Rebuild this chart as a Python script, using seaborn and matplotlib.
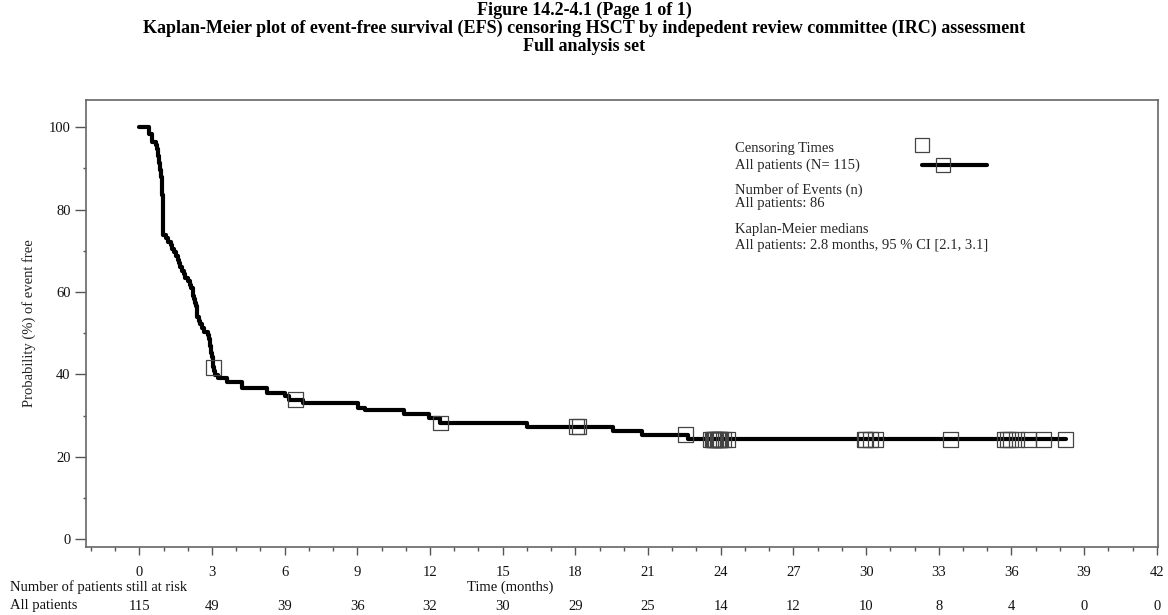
import numpy as np
import pandas as pd
import matplotlib
matplotlib.use("Agg")
import matplotlib.pyplot as plt
import seaborn as sns
from matplotlib.ticker import MultipleLocator, NullFormatter
from matplotlib.transforms import blended_transform_factory
from matplotlib.lines import Line2D

# ---- data ----
step_times = [0.0, 0.38, 0.52, 0.70, 0.74, 0.78, 0.82, 0.86, 0.90, 0.93, 0.95, 0.96,
              0.97, 0.98, 0.99, 1.10, 1.20, 1.30, 1.36, 1.45, 1.52, 1.58, 1.65, 1.70,
              1.76, 1.84, 1.90, 2.00, 2.10, 2.15, 2.20, 2.23, 2.25, 2.28, 2.35, 2.37,
              2.38, 2.39, 2.45, 2.52, 2.60, 2.68, 2.85, 2.88, 2.90, 2.93, 2.96, 2.98,
              3.00, 3.04, 3.06, 3.10, 3.14, 3.26, 3.61, 4.23, 5.26, 6.00, 6.20, 6.76,
              9.04, 9.32, 10.93, 11.95, 12.40, 16.00, 19.55, 20.75, 22.65, 38.25]
step_surv = [100.0, 98.3, 96.5, 95.6, 94.8, 93.0, 91.3, 89.6, 87.8, 86.1, 83.5, 80.9,
             78.3, 75.7, 73.9, 73.0, 72.2, 71.3, 70.4, 69.6, 68.7, 67.8, 67.0, 66.1,
             65.2, 64.3, 63.5, 62.6, 61.7, 60.9, 60.0, 59.1, 58.3, 57.4, 56.5, 55.7,
             54.8, 53.9, 53.0, 52.2, 51.3, 50.4, 49.6, 48.7, 47.8, 47.0, 46.1, 45.2,
             44.3, 42.6, 41.7, 40.8, 39.9, 39.0, 38.2, 36.6, 35.6, 34.7, 33.9, 33.1,
             31.9, 31.3, 30.3, 29.4, 28.2, 27.3, 26.2, 25.3, 24.2, 24.2]
censor_times = [3.07, 6.44, 12.43, 18.05, 18.15, 22.55,
                23.59, 23.65, 23.70, 23.76, 23.80, 23.85, 23.90, 23.95, 23.98, 24.10, 24.28,
                29.95, 29.98, 30.20, 30.38, 33.50,
                35.72, 35.85, 35.95, 36.20, 36.70, 37.34, 38.25]
risk_times = [0, 3, 6, 9, 12, 15, 18, 21, 24, 27, 30, 33, 36, 39, 42]
risk_counts = [115, 49, 39, 36, 32, 30, 29, 25, 14, 12, 10, 8, 4, 0, 0]

title_lines = ["Figure 14.2-4.1 (Page 1 of 1)",
               "Kaplan-Meier plot of event-free survival (EFS) censoring HSCT by indepedent review committee (IRC) assessment",
               "Full analysis set"]

# ---- style ----
sns.set_theme(style="white")
plt.rcParams["font.family"] = ["Liberation Serif", "DejaVu Serif"]

fig = plt.figure(figsize=(11.68, 6.15), dpi=100)
ax = fig.add_axes([86 / 1168, 1 - 547 / 615, (1158 - 86) / 1168, (547 - 100) / 615])

curve = pd.DataFrame({"time": step_times, "surv": step_surv})
sns.lineplot(data=curve, x="time", y="surv", drawstyle="steps-post", estimator=None,
             sort=False, color="black", linewidth=3.0, ax=ax)

# censor marks placed on the step curve
st = np.array(step_times)
ss = np.array(step_surv)
idx = np.searchsorted(st, np.array(censor_times), side="right") - 1
cens = pd.DataFrame({"time": censor_times, "surv": ss[idx]})
sns.scatterplot(data=cens, x="time", y="surv", marker="s", s=115, facecolor="none",
                edgecolor="#444444", linewidth=0.9, ax=ax, zorder=3)

ax.set_xlim(-2.2, 42.05)
ax.set_ylim(-1.9, 106.6)
ax.xaxis.set_major_locator(MultipleLocator(3))
ax.xaxis.set_minor_locator(MultipleLocator(1))
ax.yaxis.set_major_locator(MultipleLocator(20))
ax.yaxis.set_minor_locator(MultipleLocator(10))
ax.yaxis.set_minor_formatter(NullFormatter())
ax.xaxis.set_minor_formatter(NullFormatter())
fs = 10.5
ax.tick_params(axis="both", which="both", direction="out", width=1,
               color="#555555", labelsize=fs, labelcolor="#111111")
ax.tick_params(axis="x", which="major", length=5.5, pad=8)
ax.tick_params(axis="x", which="minor", length=3)
ax.tick_params(axis="y", which="major", length=8, pad=3)
ax.tick_params(axis="y", which="minor", length=2.5)
ax.tick_params(bottom=True, left=True, which="both")
for sp in ax.spines.values():
    sp.set_color("#666666")
    sp.set_linewidth(1.2)
ax.set_xlabel("")
ax.set_ylabel("Probability (%) of event free", fontsize=fs, color="#222222", labelpad=9)

# titles
for i, line in enumerate(title_lines):
    fig.text(0.5, 1 - (10.5 + 18.2 * i) / 615, line, ha="center", va="center",
             fontsize=13, fontweight="bold", color="black")

# legend block
fig.text(735 / 1168, 1 - 148 / 615, "Censoring Times", fontsize=fs, va="center")
fig.text(735 / 1168, 1 - 165 / 615, "All patients (N= 115)", fontsize=fs, va="center")
fig.add_artist(Line2D([922 / 1168], [1 - 145 / 615], marker="s", markersize=10.5,
                      markerfacecolor="none", markeredgecolor="#444444",
                      markeredgewidth=0.9, linestyle="none", transform=fig.transFigure))
fig.add_artist(Line2D([922 / 1168, 987 / 1168], [1 - 165 / 615, 1 - 165 / 615],
                      color="black", linewidth=3, transform=fig.transFigure))
fig.add_artist(Line2D([943 / 1168], [1 - 165 / 615], marker="s", markersize=10.5,
                      markerfacecolor="none", markeredgecolor="#444444",
                      markeredgewidth=0.9, linestyle="none", transform=fig.transFigure))
fig.text(735 / 1168, 1 - 190 / 615, "Number of Events (n)", fontsize=fs, va="center")
fig.text(735 / 1168, 1 - 203 / 615, "All patients: 86", fontsize=fs, va="center")
fig.text(735 / 1168, 1 - 229 / 615, "Kaplan-Meier medians", fontsize=fs, va="center")
fig.text(735 / 1168, 1 - 246 / 615, "All patients: 2.8 months, 95 % CI [2.1, 3.1]",
         fontsize=fs, va="center")

# at-risk table
fig.text(10 / 1168, 1 - 587 / 615, "Number of patients still at risk", fontsize=fs,
         va="center", color="#111111")
fig.text(510 / 1168, 1 - 587 / 615, "Time (months)", fontsize=fs,
         va="center", ha="center", color="#111111")
fig.text(10 / 1168, 1 - 606 / 615, "All patients", fontsize=fs, va="center", color="#111111")
trans = blended_transform_factory(ax.transData, fig.transFigure)
for t, n in zip(risk_times, risk_counts):
    ax.text(t, 1 - 606 / 615, str(n), transform=trans, ha="center", va="center",
            fontsize=fs, color="#111111", clip_on=False)

fig.savefig("out.png", dpi=100)
